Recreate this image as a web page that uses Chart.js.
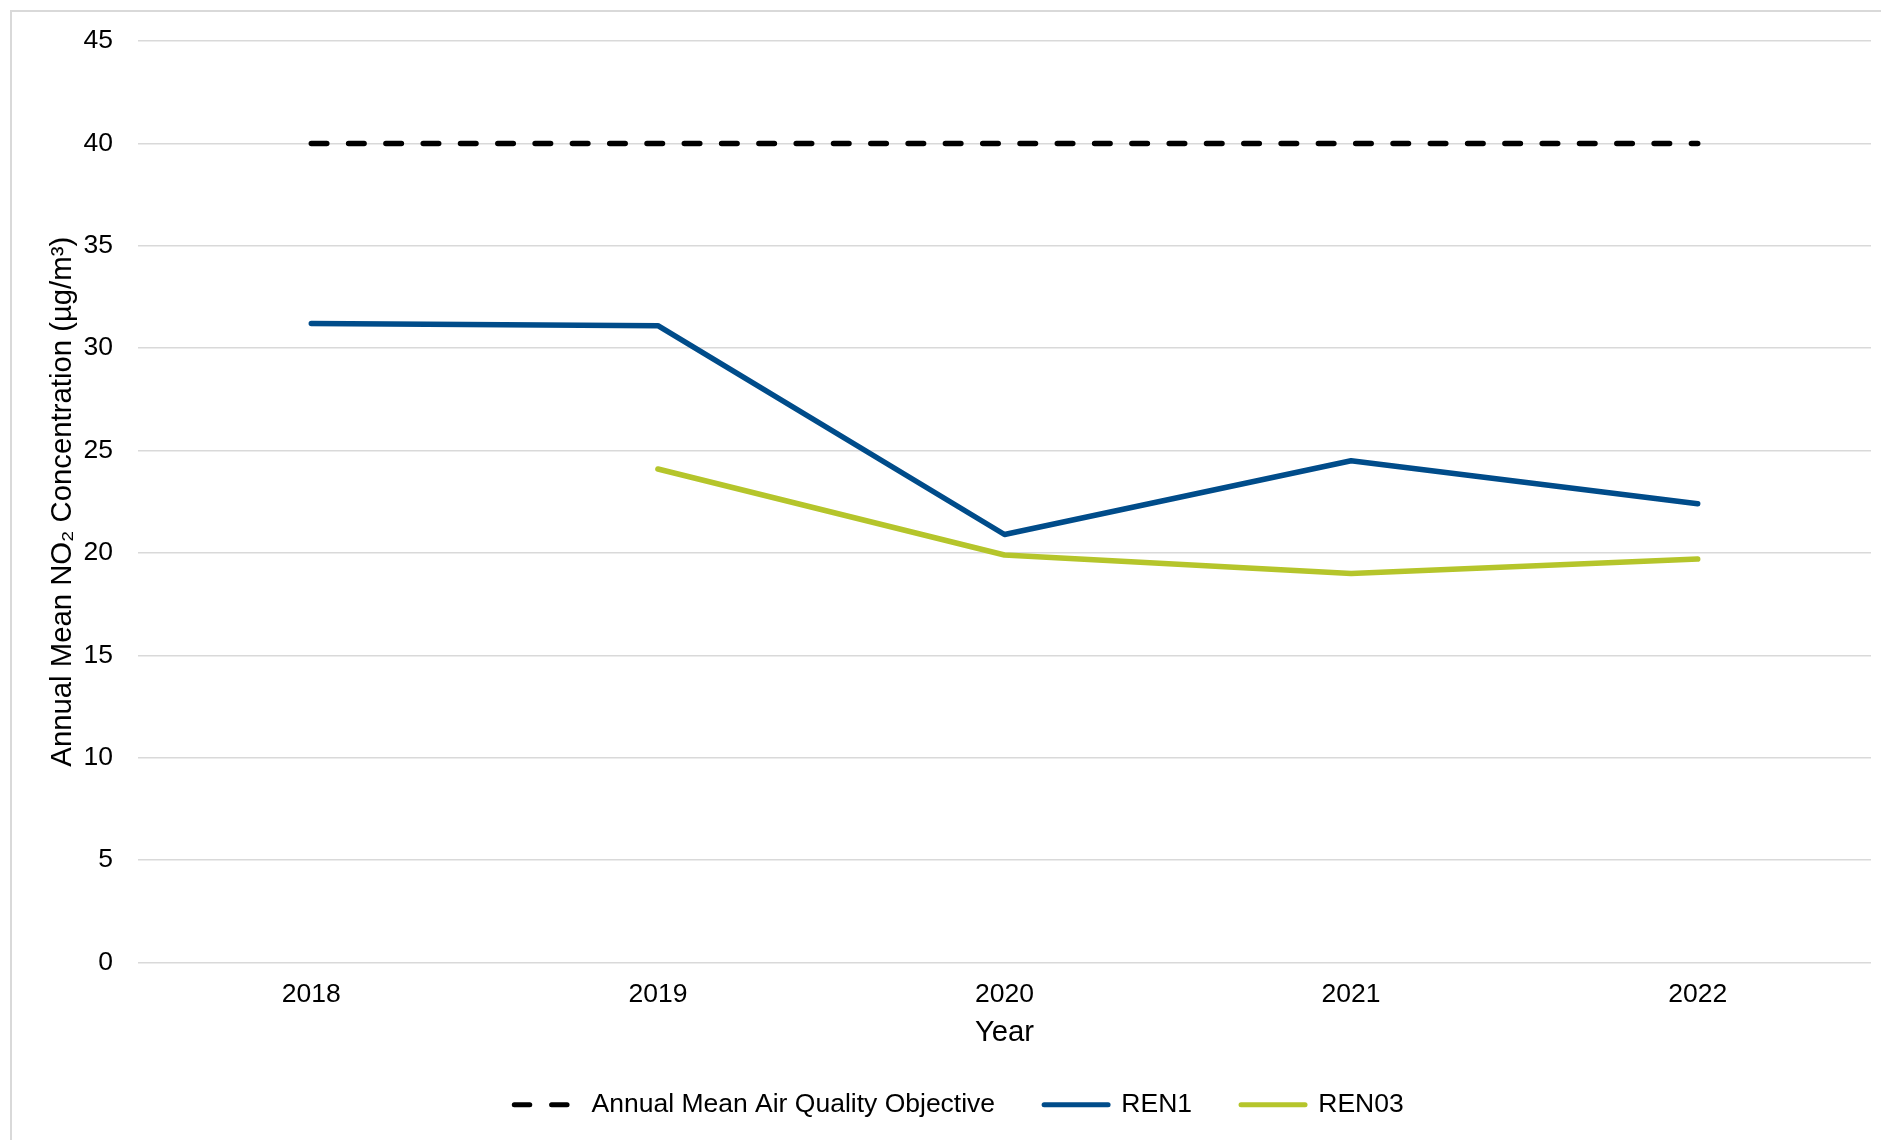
<!DOCTYPE html>
<html>
<head>
<meta charset="utf-8">
<script src="https://cdn.jsdelivr.net/npm/chart.js@4"></script>
<style>
html, body { margin: 0; padding: 0; background: #fff; overflow: hidden; }
#frame { position: absolute; left: 10px; top: 10px; width: 2000px; height: 2000px; border: 2px solid #d9d9d9; }
#wrap { position: absolute; left: 0; top: 0; width: 1881px; height: 1140px; }
</style>
</head>
<body>
<div id="frame"></div>
<div id="wrap"><canvas id="no2Chart" width="1881" height="1140"></canvas></div>
<script>
// values
const years = ['2018', '2019', '2020', '2021', '2022']
const objective = [40, 40, 40, 40, 40]
const ren1 = [31.2, 31.1, 20.9, 24.5, 22.4]
const ren03 = [null, 24.1, 19.9, 19.0, 19.7]
const yMin = 0
const yMax = 45
const yStep = 5

Chart.defaults.font.family = '"Liberation Sans", Arial, sans-serif'
Chart.defaults.color = '#000'

const data = {
    labels: years,
    datasets: [
        {
            label: 'Annual Mean Air Quality Objective',
            data: objective,
            borderColor: '#000',
            borderWidth: 5.5,
            borderDash: [15.5, 21.8],
            borderCapStyle: 'round'
        },
        {
            label: 'REN1',
            data: ren1,
            borderColor: '#004C8A',
            borderWidth: 5.5,
            borderCapStyle: 'round'
        },
        {
            label: 'REN03',
            data: ren03,
            borderColor: '#B5C52B',
            borderWidth: 5.5,
            borderCapStyle: 'round'
        }
    ]
}

// legend uses point style, so put the dash back on by hand
const legendLabels = chart => {
    const items = Chart.defaults.plugins.legend.labels.generateLabels(chart)
    items.forEach((item, i) => {
        item.lineDash = chart.data.datasets[i].borderDash || []
        item.lineCap = 'round'
        item.lineWidth = 5
    })
    return items
}

const options = {
    responsive: false,
    animation: false,
    elements: {
        point: { radius: 0, hoverRadius: 0 },
        line: { tension: 0, fill: false, borderJoinStyle: 'round' }
    },
    layout: { padding: { top: 41, right: 10, bottom: 12, left: 47 } },
    plugins: {
        tooltip: { enabled: false },
        legend: {
            position: 'bottom',
            labels: {
                usePointStyle: true,
                pointStyle: 'line',
                pointStyleWidth: 64,
                padding: 49,
                font: { size: 26.5 },
                color: '#000',
                generateLabels: legendLabels
            }
        }
    },
    scales: {
        x: {
            offset: true,
            grid: { display: false, drawTicks: false },
            border: { display: false },
            ticks: { padding: 16, font: { size: 26.5 }, color: '#000' },
            title: {
                display: true,
                text: 'Year',
                font: { size: 29.3 },
                color: '#000',
                padding: { top: 0, bottom: -8 }
            },
            afterFit: scale => { scale.height = 80 }
        },
        y: {
            min: yMin,
            max: yMax,
            ticks: { stepSize: yStep, padding: 25, font: { size: 26.5 }, color: '#000' },
            grid: { color: '#d9d9d9', lineWidth: 1.5, drawTicks: false },
            border: { display: false },
            title: {
                display: true,
                text: 'Annual Mean NO₂ Concentration (µg/m³)',
                font: { size: 29.3 },
                color: '#000',
                padding: { top: -2, bottom: 0 }
            },
            afterFit: scale => { scale.width = 91 }
        }
    }
}

new Chart('no2Chart', { type: 'line', data, options })
</script>
</body>
</html>
